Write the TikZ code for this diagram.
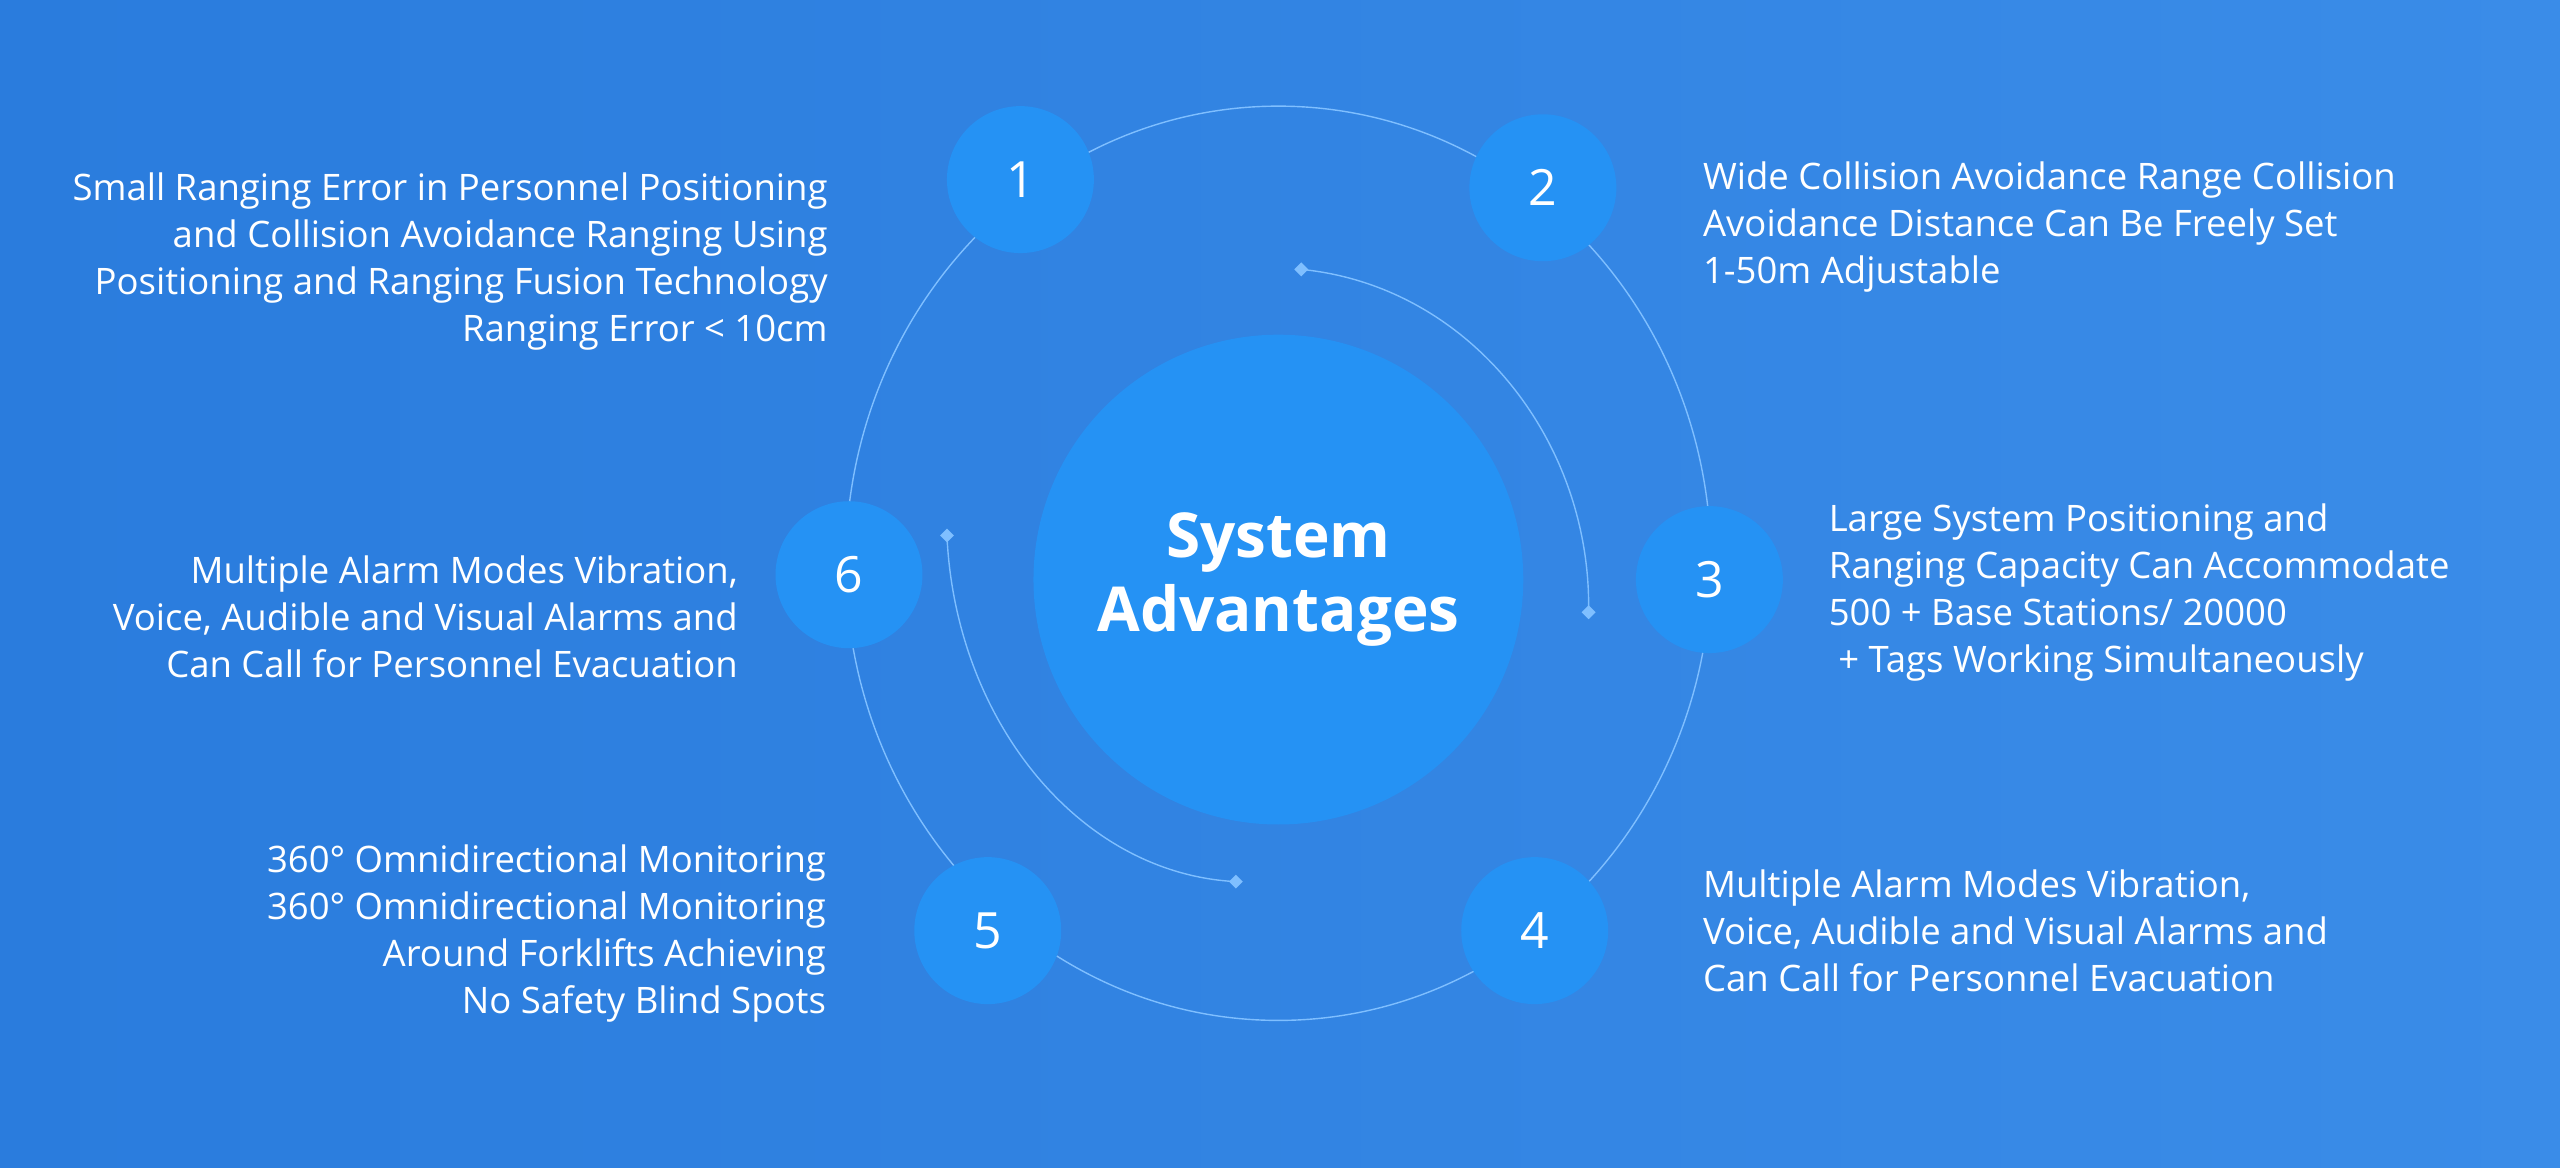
\documentclass[tikz,border=0pt]{standalone}
\usepackage{fontspec}
\setmainfont{Open Sans}
\usetikzlibrary{shapes.geometric}
\definecolor{bgA}{HTML}{2A7CDD}
\definecolor{bgB}{HTML}{3A8CE8}
\definecolor{disc}{HTML}{2592F4}
\definecolor{ring}{HTML}{7FBFFF}
\tikzset{
  numc/.style={circle,fill=disc,minimum size={90*1.633pt},inner sep=0pt,text=white,font=\fontsize{50}{54}\selectfont},
  txt/.style={text=white,font=\fontsize{36.5}{47}\selectfont,inner sep=0pt},
  dia/.style={diamond,fill=ring,minimum size=14pt,inner sep=0pt},
  thin/.style={draw=ring,line width=1.4pt}
}
\begin{document}
\begin{tikzpicture}[x=1.633pt,y=-1.633pt]
\shade[left color=bgA,right color=bgB] (0,0) rectangle (1568,715);
\useasboundingbox (0,0) rectangle (1568,715);
% outer ring
\draw[thin] (783,345) ellipse [x radius=265,y radius=-280];
% inner arcs
\draw[thin] (797,165) coordinate (d1) .. controls (900,175) and (975,270) .. (973,375) coordinate (d2);
\draw[thin] (580,328) coordinate (d3) .. controls (585,440) and (660,535) .. (757,540) coordinate (d4);
\node[dia] at (d1) {};\node[dia] at (d2) {};\node[dia] at (d3) {};\node[dia] at (d4) {};
% center
\node[circle,fill=disc,minimum size={300*1.633pt},inner sep=0pt,text=white,align=center,font=\bfseries\fontsize{62}{74}\selectfont] (ctr) at (783,355) {System\\Advantages};
\node[numc] (n1) at (625,110) {1};
\node[numc] (n2) at (945,115) {2};
\node[numc] (n3) at (1047,355) {3};
\node[numc] (n4) at (940,570) {4};
\node[numc] (n5) at (605,570) {5};
\node[numc] (n6) at (520,352) {6};
% texts
\node[txt,align=right,anchor=east] (t1) at (507,160) {Small Ranging Error in Personnel Positioning\\and Collision Avoidance Ranging Using\\Positioning and Ranging Fusion Technology\\Ranging Error < 10cm};
\node[txt,align=left,anchor=west] (t2) at (1043,139) {Wide Collision Avoidance Range Collision\\Avoidance Distance Can Be Freely Set\\1-50m Adjustable};
\node[txt,align=left,anchor=west] (t3) at (1120,363) {Large System Positioning and\\Ranging Capacity Can Accommodate\\500 + Base Stations/ 20000\\\ + Tags Working Simultaneously};
\node[txt,align=left,anchor=west] (t4) at (1043,570) {Multiple Alarm Modes Vibration,\\Voice, Audible and Visual Alarms and\\Can Call for Personnel Evacuation};
\node[txt,align=right,anchor=east] (t5) at (506,572) {360° Omnidirectional Monitoring\\360° Omnidirectional Monitoring\\Around Forklifts Achieving\\No Safety Blind Spots};
\node[txt,align=right,anchor=east] (t6) at (452,378) {Multiple Alarm Modes Vibration,\\Voice, Audible and Visual Alarms and\\Can Call for Personnel Evacuation};
\end{tikzpicture}
\end{document}
